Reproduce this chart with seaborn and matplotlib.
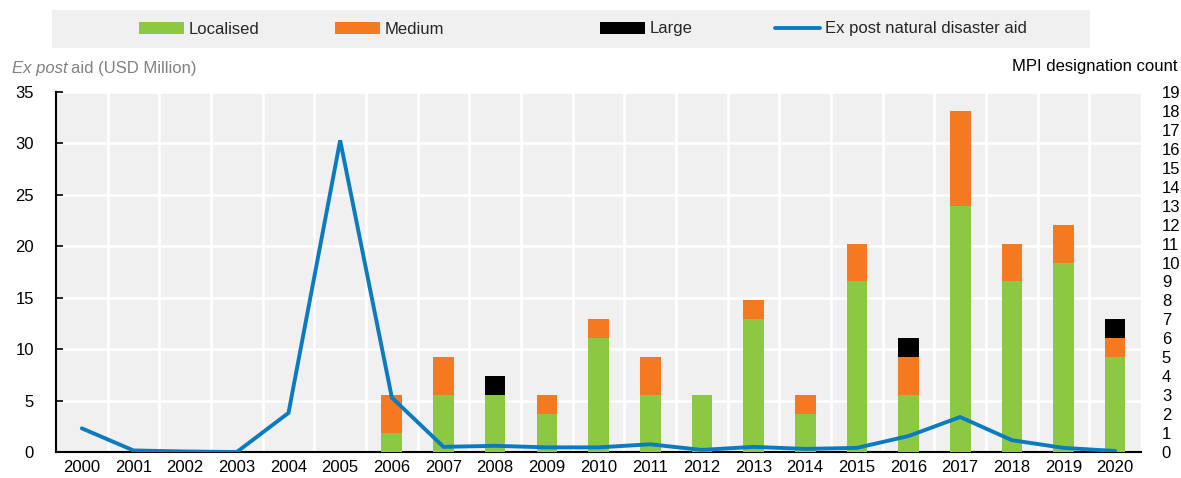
import matplotlib
matplotlib.use("Agg")
import matplotlib.pyplot as plt
from matplotlib.patches import Patch, Rectangle
from matplotlib.lines import Line2D
import seaborn as sns
import numpy as np
import pandas as pd

years = list(range(2000, 2021))
localised = [0, 0, 0, 0, 0, 0, 1, 3, 3, 2, 6, 3, 3, 7, 2, 9, 3, 13, 9, 10, 5]
medium    = [0, 0, 0, 0, 0, 0, 2, 2, 0, 1, 1, 2, 0, 1, 1, 2, 2, 5, 2, 2, 1]
large     = [0, 0, 0, 0, 0, 0, 0, 0, 1, 0, 0, 0, 0, 0, 0, 0, 1, 0, 0, 0, 1]
aid = [2.3, 0.15, 0.05, 0.0, 3.8, 30.3, 5.3, 0.5, 0.6, 0.45, 0.45, 0.75, 0.2,
       0.5, 0.3, 0.4, 1.55, 3.4, 1.15, 0.4, 0.1]
legend_labels = ["Localised", "Medium", "Large", "Ex post natural disaster aid"]

GREEN = "#8CC841"
ORANGE = "#F47920"
BLACK = "#000000"
BLUE = "#0B7BC1"
BG = "#F0F0F0"

sns.set_theme(style="white")
plt.rcParams["font.family"] = ["Liberation Sans", "DejaVu Sans"]
FS = 12

df = pd.DataFrame({"year": years, "loc": localised, "med": medium, "lar": large, "aid": aid})
df["lm"] = df["loc"] + df["med"]
df["tot"] = df["lm"] + df["lar"]

fig = plt.figure(figsize=(11.81, 4.78), dpi=100)
ax = fig.add_axes([56 / 1181, 1 - 452 / 478, (1141 - 56) / 1181, 360 / 478])
ax.set_facecolor(BG)

# bars on twin (right scale)
axb = ax.twinx()
for col, c in [("tot", BLACK), ("lm", ORANGE), ("loc", GREEN)]:
    sns.barplot(data=df, x="year", y=col, color=c, width=0.4, ax=axb,
                saturation=1, linewidth=0, errorbar=None)
axl = ax.twinx()
sns.lineplot(x=np.arange(len(years)), y=df["aid"].values, ax=axl, color=BLUE,
             linewidth=2.8, solid_joinstyle="miter")

for a in (ax, axb, axl):
    a.set_xlim(-0.5, len(years) - 0.5)
    a.set_xlabel("")
    a.set_ylabel("")
    for s in a.spines.values():
        s.set_visible(False)

ax.set_ylim(0, 35)
axl.set_ylim(0, 35)
axb.set_ylim(0, 19)
axl.set_yticks([])

ax.set_xticks(np.arange(len(years)))
ax.set_xticklabels([str(y) for y in years], fontsize=FS)
ax.set_xticks(np.arange(len(years) - 1) + 0.5, minor=True)
ax.tick_params(axis="x", which="major", length=0, pad=6, colors="black")
ax.tick_params(axis="x", which="minor", length=5, direction="in", width=1.2, color="black")
ax.set_yticks(np.arange(0, 36, 5))
ax.set_yticklabels([str(v) for v in range(0, 36, 5)], fontsize=FS)
ax.tick_params(axis="y", length=5, direction="in", width=1.2, pad=16, colors="black")
ax.grid(True, which="major", axis="y", color="white", linewidth=1.8)
ax.grid(True, which="minor", axis="x", color="white", linewidth=1.8)
ax.set_axisbelow(True)
for s in ("left", "bottom"):
    ax.spines[s].set_visible(True)
    ax.spines[s].set_color("black")
    ax.spines[s].set_linewidth(1.5)

axb.set_yticks(np.arange(0, 20))
axb.set_yticklabels([str(v) for v in range(0, 20)], fontsize=FS)
axb.tick_params(axis="y", length=0, pad=15, colors="black")
axb.tick_params(axis="x", length=0, labelbottom=False)
axl.tick_params(axis="x", length=0, labelbottom=False)

# axis titles
t1 = fig.text(12 / 1181, 1 - 68 / 478, "Ex post", style="italic", color="#808080",
              fontsize=FS, va="center", ha="left")
fig.canvas.draw()
bb = t1.get_window_extent(renderer=fig.canvas.get_renderer())
fig.text(bb.x1 / fig.bbox.width + 3 / 1181, 1 - 68 / 478, "aid (USD Million)", color="#808080",
         fontsize=FS, va="center", ha="left")
fig.text(1178 / 1181, 1 - 66 / 478, "MPI designation count", color="black",
         fontsize=FS, va="center", ha="right")

# legend
fig.patches.append(Rectangle((52 / 1181, 1 - 48 / 478), (1090 - 52) / 1181, 38 / 478,
                             transform=fig.transFigure, facecolor=BG, edgecolor="none",
                             zorder=0))
handles = [Patch(facecolor=GREEN, edgecolor="none"),
           Patch(facecolor=ORANGE, edgecolor="none"),
           Patch(facecolor=BLACK, edgecolor="none"),
           Line2D([0], [0], color=BLUE, linewidth=2.8)]
starts = [139, 335, 600, 775]
for h, lab, xs in zip(handles, legend_labels, starts):
    fig.legend([h], [lab], loc="center left", bbox_to_anchor=(xs / 1181, 1 - 29 / 478),
               frameon=False, fontsize=FS, handlelength=2.7, handleheight=0.7,
               handletextpad=0.3, borderpad=0, borderaxespad=0)

fig.savefig("out.png", dpi=100)
